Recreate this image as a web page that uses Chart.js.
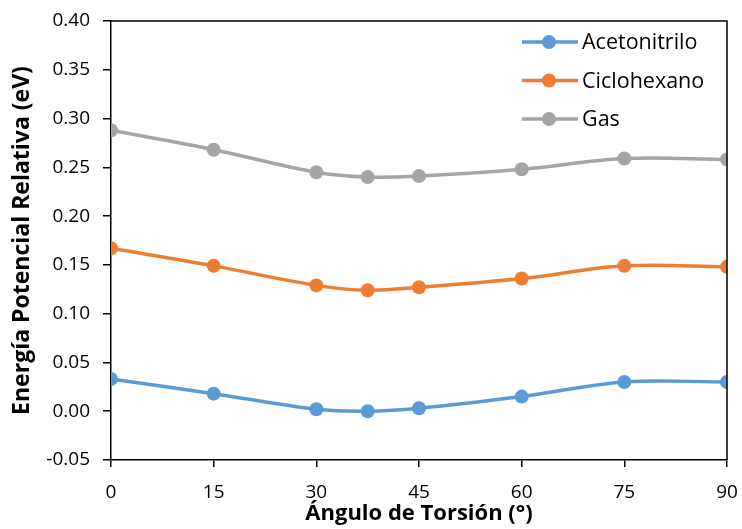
<!DOCTYPE html>
<html>
<head>
<meta charset="utf-8">
<script src="https://cdn.jsdelivr.net/npm/chart.js@4"></script>
<style>
  body { margin: 0; background: #fff; }
  canvas { display: block; }
</style>
</head>
<body>
<canvas id="torsion" width="742" height="529"></canvas>
<script>
// Ángulos de torsión (grados)
const angulos = [0, 15, 30, 37.5, 45, 60, 75, 90];

// Energías relativas (eV) por medio
const acetonitrilo = [0.033, 0.018, 0.002, 0.000, 0.003, 0.015, 0.030, 0.030];
const ciclohexano = [0.167, 0.149, 0.129, 0.124, 0.127, 0.136, 0.149, 0.148];
const gas = [0.288, 0.268, 0.245, 0.240, 0.241, 0.248, 0.259, 0.258];

const xTicks = [0, 15, 30, 45, 60, 75, 90];
const yTicks = [-0.05, 0, 0.05, 0.10, 0.15, 0.20, 0.25, 0.30, 0.35, 0.40];

const FONT = "'Open Sans', Lato, sans-serif";

function serie(label, valores, color) {
  return {
    label: label,
    data: angulos.map((a, i) => ({ x: a, y: valores[i] })),
    borderColor: color,
    backgroundColor: color,
    borderWidth: 3.5,
    pointRadius: 7,
    pointHoverRadius: 7,
    pointBorderWidth: 0,
    tension: 0.35
  };
}

// Marco superior y derecho del área de trazado
const marco = {
  id: "marco",
  afterDatasetsDraw(chart) {
    const { ctx, chartArea: a } = chart;
    ctx.save();
    ctx.strokeStyle = "#000";
    ctx.lineWidth = 1.5;
    ctx.beginPath();
    ctx.moveTo(a.left, a.top);
    ctx.lineTo(a.right, a.top);
    ctx.lineTo(a.right, a.bottom);
    ctx.stroke();
    ctx.restore();
  }
};

// Leyenda dentro del gráfico, arriba a la derecha
const leyenda = {
  id: "leyenda",
  afterDraw(chart) {
    const { ctx } = chart;
    ctx.save();
    ctx.font = "21.5px " + FONT;
    ctx.textBaseline = "middle";
    chart.data.datasets.forEach((ds, i) => {
      const y = 42 + i * 38.5;
      ctx.strokeStyle = ds.borderColor;
      ctx.lineWidth = 3.5;
      ctx.beginPath();
      ctx.moveTo(522, y);
      ctx.lineTo(578, y);
      ctx.stroke();
      ctx.fillStyle = ds.backgroundColor;
      ctx.beginPath();
      ctx.arc(549, y, 7, 0, Math.PI * 2);
      ctx.fill();
      ctx.fillStyle = "#000";
      ctx.fillText(ds.label, 582, y + 1);
    });
    ctx.restore();
  }
};

new Chart(document.getElementById("torsion"), {
  type: "line",
  data: {
    datasets: [
      serie("Acetonitrilo", acetonitrilo, "#5B9BD5"),
      serie("Ciclohexano", ciclohexano, "#ED7D31"),
      serie("Gas", gas, "#A5A5A5")
    ]
  },
  options: {
    responsive: false,
    animation: false,
    layout: { padding: { top: 21, right: 15, left: 0, bottom: 0 } },
    plugins: {
      legend: { display: false },
      tooltip: { enabled: false }
    },
    scales: {
      x: {
        type: "linear",
        min: 0,
        max: 90,
        afterBuildTicks: (axis) => { axis.ticks = xTicks.map(v => ({ value: v })); },
        afterFit: (axis) => {
          axis.height = 69;
          axis.paddingLeft = 0;
          axis.paddingRight = 0;
        },
        border: { color: "#000", width: 1.5 },
        grid: { drawOnChartArea: false, tickLength: 7, color: "#000", lineWidth: 1.5 },
        ticks: {
          color: "#000",
          padding: 14,
          font: { family: FONT, size: 19 }
        },
        title: {
          display: true,
          text: "Ángulo de Torsión (°)",
          color: "#000",
          padding: { top: 0, bottom: 2 },
          font: { family: FONT, size: 22, weight: "bold" }
        }
      },
      y: {
        min: -0.05,
        max: 0.40,
        afterBuildTicks: (axis) => { axis.ticks = yTicks.map(v => ({ value: v })); },
        afterFit: (axis) => {
          axis.width = 111;
          axis.paddingTop = 0;
          axis.paddingBottom = 0;
        },
        border: { color: "#000", width: 1.5 },
        grid: { drawOnChartArea: false, tickLength: 8, color: "#000", lineWidth: 1.5 },
        ticks: {
          color: "#000",
          padding: 13,
          font: { family: FONT, size: 19 },
          callback: (v) => v.toFixed(2)
        },
        title: {
          display: true,
          text: "Energía Potencial Relativa (eV)",
          color: "#000",
          padding: { top: 9, bottom: 0 },
          font: { family: FONT, size: 23, weight: "bold" }
        }
      }
    }
  },
  plugins: [marco, leyenda]
});
</script>
</body>
</html>
